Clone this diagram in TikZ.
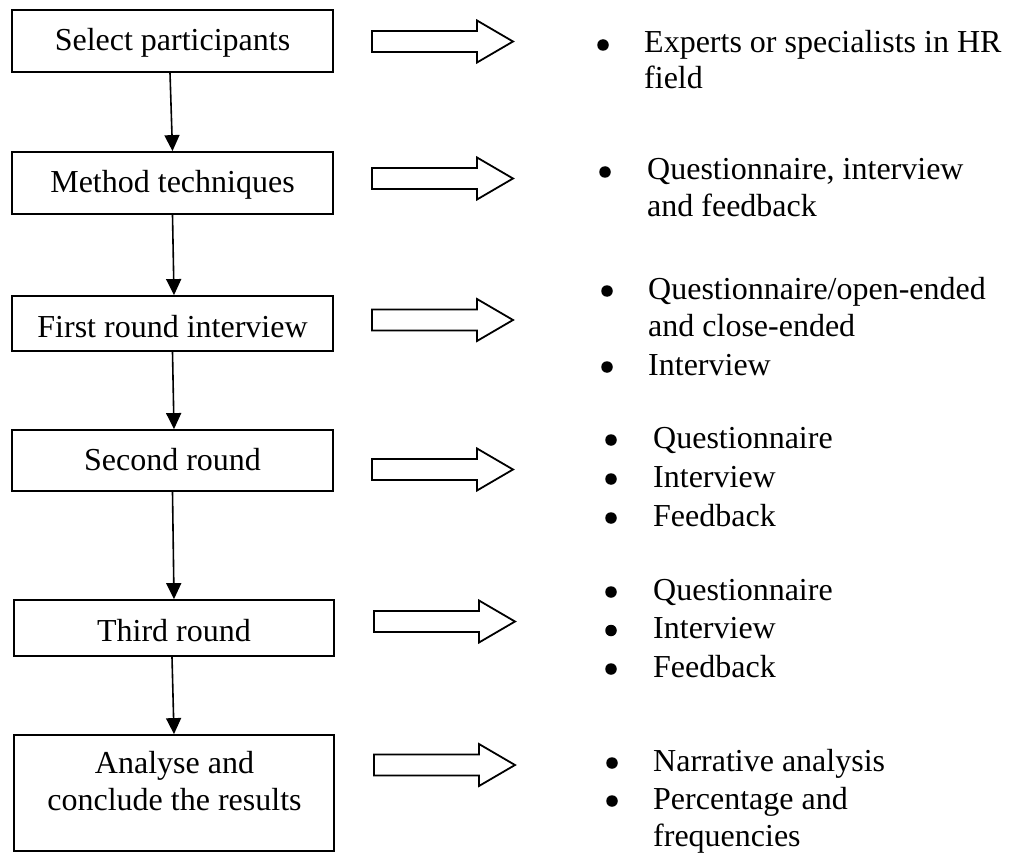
\documentclass[tikz,border=0pt]{standalone}
\usepackage{fontspec}
\setmainfont{Liberation Serif}
\usetikzlibrary{arrows.meta}
\begin{document}
\begin{tikzpicture}[x=1pt,y=-1pt,
  stepbox/.style={draw, line width=1.8pt, inner sep=0pt,
    minimum width=321pt, font=\fontsize{32pt}{37pt}\selectfont},
  boxtext/.style={anchor=base, inner sep=0pt, font=\fontsize{32pt}{37pt}\selectfont},
  flow/.style={line width=1.6pt, -{Triangle[width=15pt,length=16pt]}},
  listitem/.style={anchor=base west, inner sep=0pt, font=\fontsize{32pt}{37pt}\selectfont},
  bulletmark/.style={circle, fill, inner sep=0pt, minimum size=11.5pt},
  fatarrow/.pic={\draw[line width=1.8pt, line join=miter]
    (0,-10.5) -- (105,-10.5) -- (105,-21) -- (141,0) -- (105,21) -- (105,10.5) -- (0,10.5) -- cycle;}
]
\useasboundingbox (0,0) rectangle (1012,853);

% process steps
\node[stepbox, minimum height=62pt, text height=22pt, text depth=2pt] (b1) at (172.5,41) {Select participants};
\node[stepbox, minimum height=62pt, text height=22pt, text depth=2pt] (b2) at (172.5,183) {Method techniques};
\node[stepbox, minimum height=55pt, text height=29pt, text depth=2pt] (b3) at (172.5,323.5) {First round interview};
\node[stepbox, minimum height=61pt, text height=21pt, text depth=2pt] (b4) at (172.5,460.5) {Second round};
\node[stepbox, minimum width=320pt, minimum height=56pt, text height=28pt, text depth=2pt] (b5) at (174,628) {Third round};
\node[stepbox, minimum width=320pt, minimum height=116pt] (b6) at (174,793) {};
\node[boxtext] (b6a) at (174.5,773) {Analyse and};
\node[boxtext] (b6b) at (174.5,810) {conclude the results};

% links between steps
\draw[flow] ([xshift=-2.5pt]b1.south) -- (b2.north);
\draw[flow] (b2.south) -- ([xshift=1.5pt]b3.north);
\draw[flow] (b3.south) -- ([xshift=1.5pt]b4.north);
\draw[flow] (b4.south) -- (b5.north);
\draw[flow] ([xshift=-2pt]b5.south) -- (b6.north);

% outline arrows towards the details
\pic at (372,41.5) {fatarrow};
\pic at (372,178.5) {fatarrow};
\pic at (372,320) {fatarrow};
\pic at (372,469.5) {fatarrow};
\pic at (374,621.5) {fatarrow};
\pic at (374,765) {fatarrow};

% details of each step
\node[bulletmark] (d1) at (603,45) {};
\node[listitem] (t1a) at (644,53) {Experts or specialists in HR};
\node[listitem] (t1b) at (644,89) {field};

\node[bulletmark] (d2) at (605,172) {};
\node[listitem] (t2a) at (647,180) {Questionnaire, interview};
\node[listitem] (t2b) at (647,217) {and feedback};

\node[bulletmark] (d3) at (607,291) {};
\node[listitem] (t3a) at (648,299) {Questionnaire/open-ended};
\node[listitem] (t3b) at (648,336) {and close-ended};
\node[bulletmark] (d3b) at (607,367) {};
\node[listitem] (t3c) at (648,375) {Interview};

\node[bulletmark] (d4a) at (611,440) {};
\node[listitem] (t4a) at (653,448) {Questionnaire};
\node[bulletmark] (d4b) at (611,479) {};
\node[listitem] (t4b) at (653,487) {Interview};
\node[bulletmark] (d4c) at (611,518) {};
\node[listitem] (t4c) at (653,526) {Feedback};

\node[bulletmark] (d5a) at (611,592) {};
\node[listitem] (t5a) at (653,600) {Questionnaire};
\node[bulletmark] (d5b) at (611,630.5) {};
\node[listitem] (t5b) at (653,638.5) {Interview};
\node[bulletmark] (d5c) at (611,669) {};
\node[listitem] (t5c) at (653,677) {Feedback};

\node[bulletmark] (d6a) at (612,763) {};
\node[listitem] (t6a) at (653,771) {Narrative analysis};
\node[bulletmark] (d6b) at (612,801) {};
\node[listitem] (t6b) at (653,809) {Percentage and};
\node[listitem] (t6c) at (653,846) {frequencies};
\end{tikzpicture}
\end{document}
